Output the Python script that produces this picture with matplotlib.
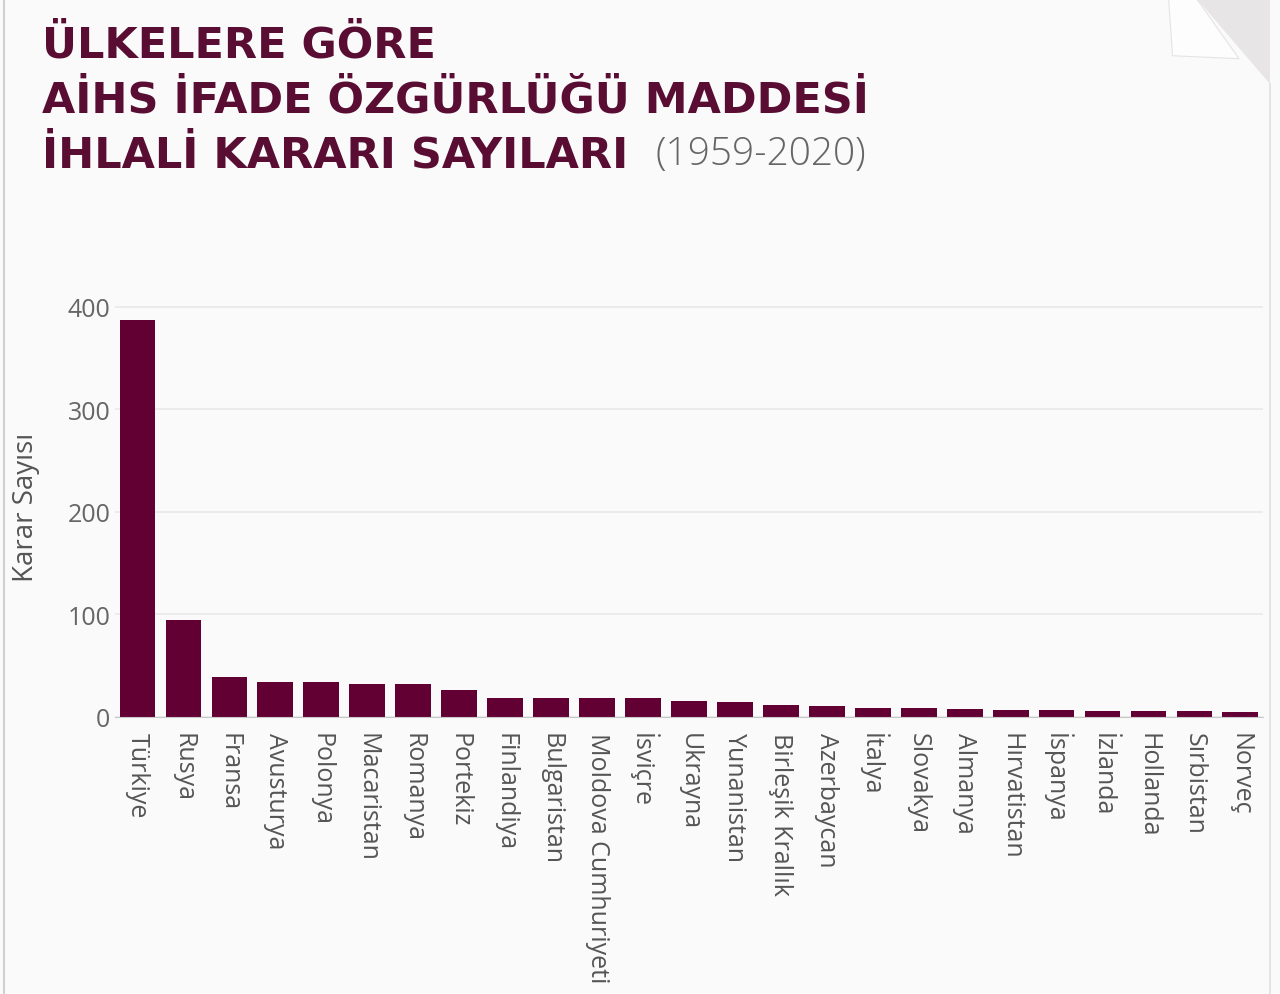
import matplotlib
matplotlib.use("Agg")
import matplotlib.pyplot as plt
from matplotlib.patches import Polygon

# data
countries = ["Türkiye", "Rusya", "Fransa", "Avusturya", "Polonya", "Macaristan",
             "Romanya", "Portekiz", "Finlandiya", "Bulgaristan", "Moldova Cumhuriyeti",
             "İsviçre", "Ukrayna", "Yunanistan", "Birleşik Krallık", "Azerbaycan",
             "İtalya", "Slovakya", "Almanya", "Hırvatistan", "İspanya", "İzlanda",
             "Hollanda", "Sırbistan", "Norveç"]
counts = [387, 95, 39, 34, 34, 32, 32, 26, 19, 19, 19, 19, 16, 15, 12,
          11, 9, 9, 8, 7, 7, 6, 6, 6, 5]
yticks = [0, 100, 200, 300, 400]

title_lines = ["ÜLKELERE GÖRE", "AİHS İFADE ÖZGÜRLÜĞÜ MADDESİ", "İHLALİ KARARI SAYILARI"]
title_years = "(1959-2020)"

bar_color = "#630033"
title_color = "#5a0d33"
bg = "#fafafa"

plt.rcParams['font.family'] = ['Open Sans', 'DejaVu Sans']

fig = plt.figure(figsize=(12.8, 9.95), dpi=100, facecolor=bg)
ax = fig.add_axes([0.0895, 0.2784, 0.8975, 0.4224])
ax.set_facecolor(bg)

x = range(len(countries))
ax.bar(x, counts, width=0.78, color=bar_color, zorder=3)

ax.set_xlim(-0.5, len(countries) - 0.5)
ax.set_ylim(0, 410)
ax.set_yticks(yticks)
ax.set_xticks(list(x))
ax.set_xticklabels(countries, rotation=270, va="top", ha="center",
                   fontsize=18, color="#555555")
ax.tick_params(axis="y", labelsize=18, labelcolor="#666666", length=0, pad=3)
ax.tick_params(axis="x", length=0, pad=11)
ax.grid(axis="y", color="#e8e8e8", linewidth=1.2, zorder=0)
for s in ["top", "right", "left"]:
    ax.spines[s].set_visible(False)
ax.spines["bottom"].set_color("#c8c8c8")
ax.spines["bottom"].set_zorder(4)
ax.set_ylabel("Karar Sayısı", fontsize=20, color="#555555", labelpad=20)

# title
ys = [0.9427, 0.8874, 0.8312]
for line, yy in zip(title_lines, ys):
    fig.text(0.033, yy, line, fontsize=31, fontweight="bold", color=title_color,
             va="baseline", ha="left", family=["DejaVu Sans"])
fig.text(0.512, 0.8342, title_years, fontsize=28, fontweight="light", color="#666666",
         va="baseline", ha="left")

# frame lines and page curl decoration
fig.add_artist(plt.Line2D([0.003, 0.003], [0, 1], color="#d0d0d0", lw=1.5))
fig.add_artist(plt.Line2D([0.992, 0.992], [0, 0.915], color="#e0e0e0", lw=1.2))
fig.add_artist(Polygon([[0.935, 1.0], [0.992, 1.0], [0.992, 0.915]], closed=True,
                       facecolor="#e8e5e6", edgecolor="none"))
fig.add_artist(Polygon([[0.913, 1.0], [0.935, 1.0], [0.968, 0.940], [0.916, 0.943]],
                       closed=True, facecolor="#fdfdfd", edgecolor="#e4e4e4", lw=0.8))

fig.savefig("out.png", dpi=100, facecolor=bg)
